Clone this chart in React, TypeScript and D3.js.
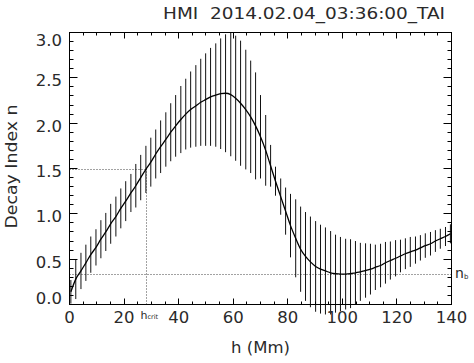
import React from 'react';
import * as d3 from 'd3';

const TITLE = 'HMI  2014.02.04_03:36:00_TAI';
const X_LABEL = 'h (Mm)';
const Y_LABEL = 'Decay Index n';

// height h (Mm) of each sample with an error bar
const H = [0.5, 2.3, 4.2, 6.0, 7.8, 9.7, 11.5, 13.3, 15.1, 17.0,
  18.8, 20.6, 22.5, 24.3, 26.1, 28.0, 29.8, 31.6, 33.4, 35.3,
  37.1, 38.9, 40.8, 42.6, 44.4, 46.3, 48.1, 49.9, 51.7, 53.6,
  55.4, 57.2, 59.1, 60.9, 62.7, 64.6, 66.4, 68.2, 70.0, 71.9,
  73.7, 75.5, 77.4, 79.2, 81.0, 82.9, 84.7, 86.5, 88.3, 90.2,
  92.0, 93.8, 95.7, 97.5, 99.3, 101.2, 103.0, 104.8, 106.6, 108.5,
  110.3, 112.1, 114.0, 115.8, 117.6, 119.5, 121.3, 123.1, 124.9, 126.8,
  128.6, 130.4, 132.3, 134.1, 135.9, 137.8, 139.6];

// mean decay index n
const N = [0.14, 0.28, 0.37, 0.46, 0.55, 0.63, 0.72, 0.80, 0.89, 0.97,
  1.06, 1.14, 1.23, 1.31, 1.40, 1.49, 1.57, 1.66, 1.74, 1.82,
  1.90, 1.97, 2.04, 2.10, 2.15, 2.19, 2.23, 2.26, 2.29, 2.31,
  2.325, 2.33, 2.315, 2.275, 2.22, 2.15, 2.07, 1.97, 1.85, 1.70,
  1.53, 1.36, 1.19, 1.03, 0.87, 0.73, 0.61, 0.53, 0.47, 0.42,
  0.39, 0.37, 0.35, 0.34, 0.335, 0.335, 0.34, 0.35, 0.36, 0.375,
  0.39, 0.41, 0.43, 0.46, 0.485, 0.51, 0.535, 0.56, 0.58, 0.60,
  0.625, 0.65, 0.67, 0.70, 0.725, 0.75, 0.78];

// half-length of each error bar
const ERR = [0.13, 0.22, 0.20, 0.20, 0.20, 0.20, 0.21, 0.21, 0.22, 0.22,
  0.22, 0.22, 0.21, 0.24, 0.25, 0.26, 0.27, 0.27, 0.29, 0.30,
  0.32, 0.34, 0.37, 0.39, 0.42, 0.45, 0.48, 0.51, 0.54, 0.57,
  0.61, 0.65, 0.68, 0.69, 0.69, 0.66, 0.62, 0.59, 0.46, 0.39,
  0.23, 0.16, 0.20, 0.26, 0.35, 0.43, 0.47, 0.49, 0.50, 0.50,
  0.49, 0.48, 0.46, 0.43, 0.41, 0.39, 0.38, 0.35, 0.32, 0.30,
  0.28, 0.25, 0.24, 0.23, 0.21, 0.20, 0.18, 0.17, 0.165, 0.15,
  0.14, 0.135, 0.13, 0.12, 0.11, 0.105, 0.105];

const X_TICKS = [0, 20, 40, 60, 80, 100, 120, 140];
const X_TICK_LABELS = ['0', '20', '40', '60', '80', '100', '120', '140'];
const Y_TICKS = [0, 0.5, 1.0, 1.5, 2.0, 2.5, 3.0];
const Y_TICK_LABELS = ['0.0', '0.5', '1.0', '1.5', '2.0', '2.5', '3.0'];

const H_CRIT = 28.2;
const N_CRIT = 1.5;
const N_B = 0.335;

const FONT = "'DejaVu Sans', 'Liberation Sans', sans-serif";
const TXT = '#2a2a2a';

export default function App() {
  const x = d3.scaleLinear().domain([0, 140]).range([69.5, 451.5]);
  const y = d3.scaleLinear().domain([0, 3]).range([304.5, 32.5]);
  const line = d3
    .line<number>()
    .x((_, i) => x(H[i]))
    .y((d) => y(d))
    .curve(d3.curveMonotoneX);

  const xMinor = x.ticks(28);
  const yMinor = y.ticks(30);
  const [x0, x1] = x.range();
  const [y0, y1] = y.range();

  const yLabelOffset = (v: number) => (v === 0 ? -0.5 : v === 3 ? 13.5 : 8.5);

  return (
    <div style={{ position: 'absolute', left: 0, top: 0 }}>
      <svg width={474} height={363} style={{ display: 'block', background: '#fff' }}>
        {/* title */}
        <text x={163} y={19} fontFamily={FONT} fontSize={16.5} fill={TXT}
          textLength={282} lengthAdjust="spacingAndGlyphs" style={{ whiteSpace: 'pre' }}>
          {TITLE}
        </text>

        {/* dotted reference lines */}
        <g stroke="#444" strokeWidth={1} strokeDasharray="1 2" fill="none">
          <line x1={x0} x2={x(H_CRIT)} y1={Math.round(y(N_CRIT)) + 0.5} y2={Math.round(y(N_CRIT)) + 0.5} />
          <line x1={Math.round(x(H_CRIT)) + 0.5} x2={Math.round(x(H_CRIT)) + 0.5} y1={y(N_CRIT)} y2={y0} />
          <line x1={x0} x2={x1} y1={Math.round(y(N_B)) + 0.5} y2={Math.round(y(N_B)) + 0.5} />
        </g>

        {/* error bars */}
        <g stroke="#111" strokeWidth={1}>
          {H.map((h, i) => (
            <line key={i} x1={x(h)} x2={x(h)} y1={y(N[i] + ERR[i])} y2={y(N[i] - ERR[i])} />
          ))}
        </g>

        {/* mean curve */}
        <path d={line(N) || ''} fill="none" stroke="#000" strokeWidth={1.3} />

        {/* axes box */}
        <rect x={x0} y={y1} width={x1 - x0} height={y0 - y1} fill="none" stroke="#000" strokeWidth={1} />

        {/* ticks */}
        <g stroke="#000" strokeWidth={1}>
          {xMinor.map((t) => {
            const major = t % 20 === 0;
            const len = major ? 6 : 3;
            const px = Math.round(x(t) - 0.5) + 0.5;
            return (
              <g key={'xt' + t}>
                <line x1={px} x2={px} y1={y0} y2={y0 - len} />
                <line x1={px} x2={px} y1={y1} y2={y1 + len} />
              </g>
            );
          })}
          {yMinor.map((t) => {
            const major = Math.abs(t * 2 - Math.round(t * 2)) < 1e-6;
            const len = major ? 8 : 4;
            const py = Math.round(y(t) - 0.5) + 0.5;
            return (
              <g key={'yt' + t}>
                <line x1={x0} x2={x0 + len} y1={py} y2={py} />
                <line x1={x1} x2={x1 - len} y1={py} y2={py} />
              </g>
            );
          })}
        </g>

        {/* x tick labels */}
        <g fontFamily={FONT} fontSize={16.5} fill={TXT} textAnchor="middle">
          {X_TICKS.map((t, i) => (
            <text key={'xl' + t} x={x(t)} y={323}>{X_TICK_LABELS[i]}</text>
          ))}
        </g>

        {/* y tick labels */}
        <g fontFamily={FONT} fontSize={16.5} fill={TXT} textAnchor="end">
          {Y_TICKS.map((t, i) => (
            <text key={'yl' + t} x={62} y={y(t) + yLabelOffset(t)}>{Y_TICK_LABELS[i]}</text>
          ))}
        </g>

        {/* axis titles */}
        <text x={(x0 + x1) / 2} y={353} fontFamily={FONT} fontSize={16.5} fill={TXT}
          textAnchor="middle" style={{ whiteSpace: 'pre' }}>
          {X_LABEL}
        </text>
        <text transform={`translate(17,${(y0 + y1) / 2 - 2}) rotate(-90)`} fontFamily={FONT} fontSize={16.5}
          fill={TXT} textAnchor="middle" textLength={124} lengthAdjust="spacingAndGlyphs">
          {Y_LABEL}
        </text>

        {/* h_crit label */}
        <text x={x(H_CRIT) - 6} y={319} fontFamily={FONT} fontSize={11} fill={TXT}>
          h<tspan fontSize={6.5}>crit</tspan>
        </text>

        {/* n_b label */}
        <text x={455} y={y(N_B) + 3.5} fontFamily={FONT} fontSize={14} fill={TXT}>
          n<tspan fontSize={7} dy={1.5}>b</tspan>
        </text>
      </svg>
    </div>
  );
}
